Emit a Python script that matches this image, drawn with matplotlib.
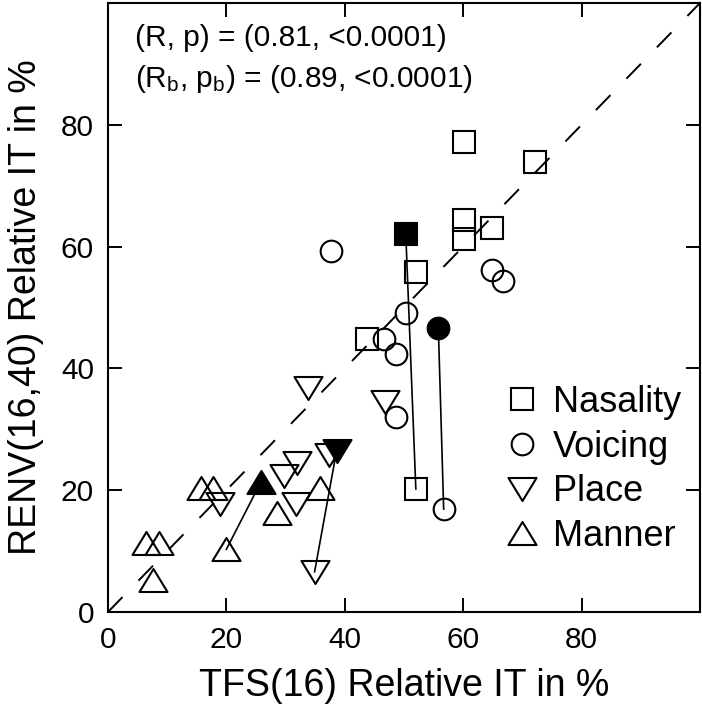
import matplotlib
matplotlib.use('Agg')
import matplotlib.pyplot as plt
from matplotlib.path import Path
from matplotlib.lines import Line2D

# values (TFS x, RENV y), hollow = other conditions, filled = highlighted
nasality_x = [60.1, 72.1, 60.1, 60.1, 64.8, 52.0, 43.8, 52.0]
nasality_y = [77.2, 73.9, 64.3, 61.3, 63.0, 55.9, 44.8, 20.2]
nasality_filled = (50.3, 62.1)

voicing_x = [37.6, 64.8, 66.7, 50.3, 46.7, 48.6, 48.6, 56.7]
voicing_y = [59.2, 56.1, 54.3, 49.1, 44.9, 42.3, 32.1, 16.9]
voicing_filled = (55.8, 46.7)

place_x = [33.7, 46.8, 37.3, 32.0, 29.8, 31.7, 19.0, 34.9]
place_y = [36.8, 34.5, 25.7, 24.5, 22.3, 17.8, 17.8, 6.6]
place_filled = (38.6, 26.4)

manner_x = [15.7, 17.8, 35.8, 28.6, 20.0, 6.5, 8.6, 7.6]
manner_y = [20.4, 20.4, 20.3, 16.3, 10.3, 11.3, 11.3, 5.2]
manner_filled = (25.8, 21.3)

# filled point -> the hollow point it is joined to
links = [(nasality_filled, (52.0, 20.2)),
         (voicing_filled, (56.7, 16.9)),
         (place_filled, (34.9, 6.6)),
         (manner_filled, (20.0, 10.3))]

labels = ["Nasality", "Voicing", "Place", "Manner"]
ticks = [0, 20, 40, 60, 80]


def triangle(up=True):
    h = 0.82 if up else -0.82
    verts = [(-1, -h), (1, -h), (0, h), (-1, -h)]
    codes = [Path.MOVETO, Path.LINETO, Path.LINETO, Path.CLOSEPOLY]
    return Path(verts, codes)


plt.rcParams['font.family'] = ['Liberation Sans', 'DejaVu Sans']
plt.rcParams['mathtext.fontset'] = 'custom'
plt.rcParams['mathtext.rm'] = 'Liberation Sans'
plt.rcParams['mathtext.it'] = 'Liberation Sans'

fig = plt.figure(figsize=(7.02, 7.10), dpi=100)
ax = fig.add_axes([108 / 702, 98 / 710, 592 / 702, 609 / 710])

ax.plot([0, 100], [0, 100], color='black', lw=1.4, linestyle=(0, (10.7, 11.8)), zorder=1)

for (x0, y0), (x1, y1) in links:
    ax.plot([x0, x1], [y0, y1], color='black', lw=1.2, zorder=3)

markers = {"Nasality": ('s', 15.8), "Voicing": ('o', 15.6),
           "Place": (triangle(False), 20.2), "Manner": (triangle(True), 20.2)}
series = {"Nasality": (nasality_x, nasality_y, nasality_filled),
          "Voicing": (voicing_x, voicing_y, voicing_filled),
          "Place": (place_x, place_y, place_filled),
          "Manner": (manner_x, manner_y, manner_filled)}

handles = []
for name in labels:
    m, ms = markers[name]
    xs, ys, filled = series[name]
    ax.plot(xs, ys, linestyle='none', marker=m, markersize=ms, mfc='none',
            mec='black', mew=1.5, zorder=2)
    ax.plot([filled[0]], [filled[1]], linestyle='none', marker=m, markersize=ms,
            mfc='black', mec='black', mew=1.5, zorder=4)
    handles.append(Line2D([], [], linestyle='none', marker=m, markersize=ms,
                          mfc='none', mec='black', mew=1.5, label=name))

ax.legend(handles=handles, loc='upper left', bbox_to_anchor=(0.669, 0.373),
          frameon=False, fontsize=26, handlelength=1.0, handletextpad=0.35,
          labelspacing=0.27, borderpad=0, borderaxespad=0)

ax.text(4.6, 94.2, "(R, p) = (0.81, <0.0001)", fontsize=21.5, va='center')
ax.text(4.6, 87.6, r"(R$_\mathrm{b}$, p$_\mathrm{b}$) = (0.89, <0.0001)",
        fontsize=21.5, va='center')

ax.set_xlim(0, 100)
ax.set_ylim(0, 100)
ax.set_xticks(ticks)
ax.set_yticks(ticks)
ax.tick_params(direction='in', length=10, width=1.4, labelsize=21.5, pad=10,
               top=True, right=True)
for s in ax.spines.values():
    s.set_linewidth(1.5)

ax.set_xlabel("TFS(16) Relative IT in %", fontsize=27, labelpad=10)
ax.set_ylabel("RENV(16,40) Relative IT in %", fontsize=27, labelpad=12)

plt.savefig('out.png', dpi=100)
